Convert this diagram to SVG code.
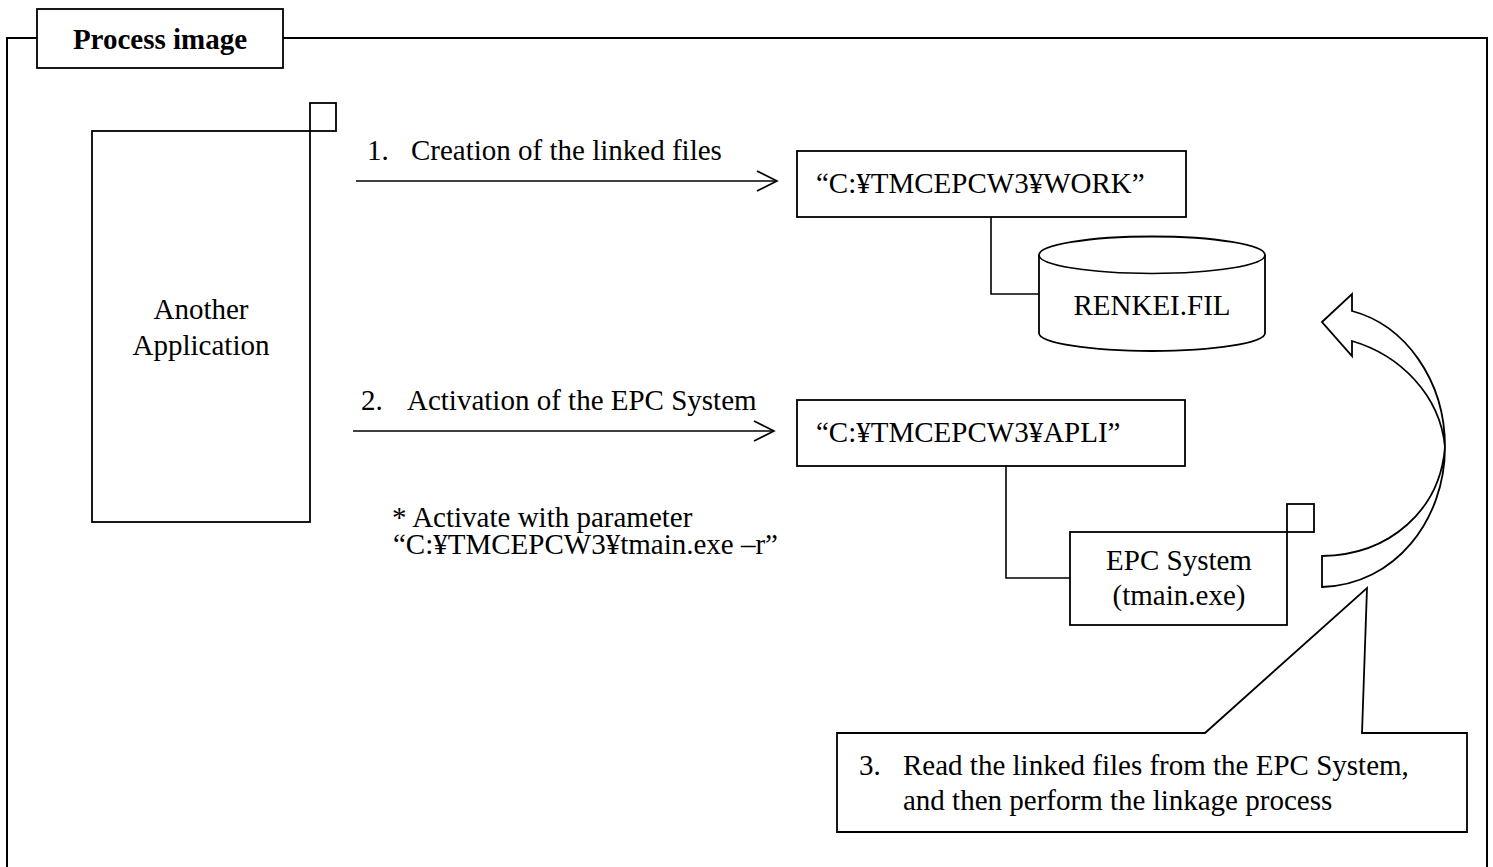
<svg xmlns="http://www.w3.org/2000/svg" width="1493" height="867" viewBox="0 0 1493 867">
<style>
.ln{fill:none;stroke:#000;stroke-width:1.6}
.bx{fill:#fff;stroke:#000;stroke-width:1.8}
.t{font-family:"Liberation Serif","Times New Roman",serif;font-size:29px;fill:#000}
.b{font-weight:bold}
.c{text-anchor:middle}
</style>
<defs>
<marker id="open" markerWidth="24" markerHeight="24" refX="21" refY="11" orient="auto" markerUnits="userSpaceOnUse">
<path d="M1,1 L21,11 L1,21" fill="none" stroke="#000" stroke-width="1.6"/>
</marker>
</defs>
<rect width="1493" height="867" fill="#fff"/>
<g id="frame">
<path d="M7,870 L7,38 L37,38 M283,38 L1487,38 L1487,870" fill="none" stroke="#000" stroke-width="2"/>
<rect class="bx" x="37" y="9" width="246" height="59"/>
<text class="t b c" x="160" y="49">Process image</text>
</g>
<g id="connectors">
<line class="ln" x1="356" y1="181" x2="777" y2="181" marker-end="url(#open)"/>
<line class="ln" x1="353" y1="431" x2="774" y2="431" marker-end="url(#open)"/>
<path class="ln" d="M991,217 L991,294 L1039,294"/>
<path class="ln" d="M1006,466 L1006,578 L1070,578"/>
</g>
<g id="label1">
<text class="t" y="160"><tspan x="367">1.</tspan><tspan x="411">Creation of the linked files</tspan></text>
</g>
<g id="label2">
<text class="t" y="410"><tspan x="361">2.</tspan><tspan x="407">Activation of the EPC System</tspan></text>
</g>
<g id="note">
<text class="t" x="392" y="527">* Activate with parameter</text>
<text class="t" x="393" y="554">“C:¥TMCEPCW3¥tmain.exe –r”</text>
</g>
<g id="another-app">
<rect class="bx" x="92" y="131" width="218" height="391"/>
<rect class="bx" x="310" y="103" width="26" height="28"/>
<text class="t c" x="201" y="319">Another</text>
<text class="t c" x="201" y="355">Application</text>
</g>
<g id="work-dir">
<rect class="bx" x="797" y="151" width="389" height="66"/>
<text class="t" x="816" y="193">“C:¥TMCEPCW3¥WORK”</text>
</g>
<g id="renkei">
<path class="bx" d="M1039,255 L1039,333 A113,18 0 0 0 1265,333 L1265,255 A113,18.5 0 0 0 1039,255 Z"/>
<path class="ln" d="M1039,255 A113,18.5 0 0 0 1265,255"/>
<text class="t c" x="1152" y="315">RENKEI.FIL</text>
</g>
<g id="apli-dir">
<rect class="bx" x="797" y="400" width="388" height="66"/>
<text class="t" x="816" y="442">“C:¥TMCEPCW3¥APLI”</text>
</g>
<g id="epc">
<rect class="bx" x="1070" y="532" width="217" height="93"/>
<rect class="bx" x="1287" y="504" width="27" height="28"/>
<text class="t c" x="1179" y="570">EPC System</text>
<text class="t c" x="1179" y="605">(tmain.exe)</text>
</g>
<g id="curved-arrow">
<path class="bx" d="M1322,322 L1352,294 L1352,311 C1405,325 1445,380 1445,447 C1445,520 1395,585 1322,587 L1322,556 C1390,555 1440,510 1445,447 C1440,395 1400,355 1352,341 L1352,356 Z"/>
</g>
<g id="callout">
<path class="bx" d="M837,733 L1205,733 L1367,588 L1362,733 L1467,733 L1467,832 L837,832 Z"/>
<text class="t" y="775"><tspan x="859">3.</tspan><tspan x="903">Read the linked files from the EPC System,</tspan></text>
<text class="t" x="903" y="810">and then perform the linkage process</text>
</g>
</svg>
